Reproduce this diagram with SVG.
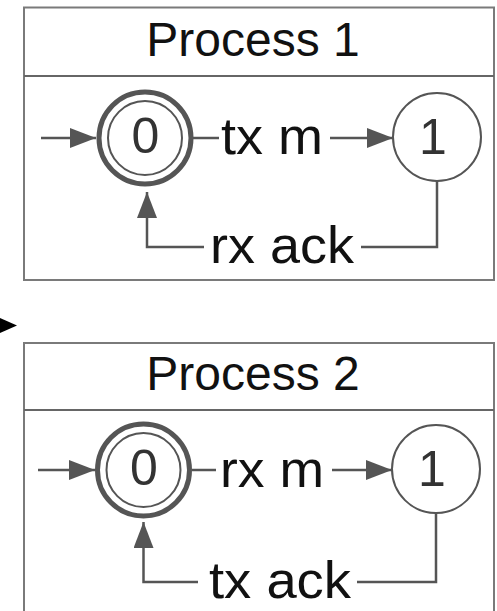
<svg xmlns="http://www.w3.org/2000/svg" width="497" height="611" viewBox="0 0 497 611">
  <style>
    .frame { fill: #ffffff; stroke: #7a7a7a; stroke-width: 2; }
    .divider { stroke: #666666; stroke-width: 2; }
    .title { font-family: "Liberation Sans", Arial, sans-serif; font-size: 48px; fill: #111111; text-anchor: middle; }
    .state-label { font-family: "Liberation Sans", Arial, sans-serif; font-size: 50px; fill: #333333; text-anchor: middle; }
    .edge-label { font-family: "Liberation Sans", Arial, sans-serif; font-size: 52px; fill: #111111; }
    .ring-outer { fill: #ffffff; stroke: #555555; stroke-width: 5; }
    .ring-inner { fill: none; stroke: #555555; stroke-width: 2; }
    .state { fill: #ffffff; stroke: #555555; stroke-width: 2; }
    .edge { fill: none; stroke: #555555; stroke-width: 2.5; }
    .arrow { marker-end: url(#head); }
  </style>
  <defs>
    <marker id="head" viewBox="0 0 26 20" refX="26" refY="10" markerWidth="26" markerHeight="20" markerUnits="userSpaceOnUse" orient="auto">
      <path d="M0,0 L26,10 L0,20 z" fill="#555555"/>
    </marker>
  </defs>

  <!-- Process 1 frame -->
  <g id="process1">
    <rect class="frame" x="24" y="7.5" width="470" height="272.5"/>
    <line class="divider" x1="24" y1="76" x2="494" y2="76"/>
    <text class="title" x="253" y="56">Process 1</text>
  </g>

  <!-- Process 2 frame (runs past the bottom edge) -->
  <g id="process2">
    <rect class="frame" x="24" y="343" width="470" height="290"/>
    <line class="divider" x1="24" y1="410" x2="494" y2="410"/>
    <text class="title" x="253" y="390">Process 2</text>
  </g>

  <!-- Process 1 states -->
  <g id="p1-s0">
    <circle class="ring-outer" cx="145" cy="138" r="46"/>
    <circle class="ring-inner" cx="145" cy="138" r="37"/>
    <text class="state-label" x="145.5" y="153">0</text>
  </g>
  <g id="p1-s1">
    <circle class="state" cx="437" cy="137" r="44"/>
    <text class="state-label" x="433" y="154">1</text>
  </g>

  <!-- Process 2 states -->
  <g id="p2-s0">
    <circle class="ring-outer" cx="143.5" cy="470" r="46"/>
    <circle class="ring-inner" cx="143.5" cy="470" r="37"/>
    <text class="state-label" x="144" y="485">0</text>
  </g>
  <g id="p2-s1">
    <circle class="state" cx="436" cy="469" r="44"/>
    <text class="state-label" x="432" y="486">1</text>
  </g>

  <!-- Transitions -->
  <g id="connectors">
    <!-- Process 1 -->
    <line class="edge arrow" x1="41" y1="138" x2="96" y2="138"/>
    <line class="edge" x1="193" y1="138" x2="219" y2="138"/>
    <line class="edge arrow" x1="330" y1="138" x2="393" y2="138"/>
    <text class="edge-label" x="221" y="154" textLength="102" lengthAdjust="spacingAndGlyphs">tx m</text>
    <polyline class="edge" points="437,181 437,247 361,247"/>
    <polyline class="edge arrow" points="204,247 147,247 147,192"/>
    <text class="edge-label" x="210" y="263" textLength="144" lengthAdjust="spacingAndGlyphs">rx ack</text>

    <!-- Link between the two processes -->
    <path d="M0,318 L17,325.5 L0,333 z" fill="#000000"/>

    <!-- Process 2 -->
    <line class="edge arrow" x1="38" y1="470" x2="95" y2="470"/>
    <line class="edge" x1="192" y1="470" x2="216" y2="470"/>
    <line class="edge arrow" x1="332" y1="470" x2="392" y2="470"/>
    <text class="edge-label" x="220" y="487" textLength="104" lengthAdjust="spacingAndGlyphs">rx m</text>
    <polyline class="edge" points="436,513 436,582 357,582"/>
    <polyline class="edge arrow" points="198,582 143.5,582 143.5,522"/>
    <text class="edge-label" x="209" y="598" textLength="142" lengthAdjust="spacingAndGlyphs">tx ack</text>
  </g>
</svg>
